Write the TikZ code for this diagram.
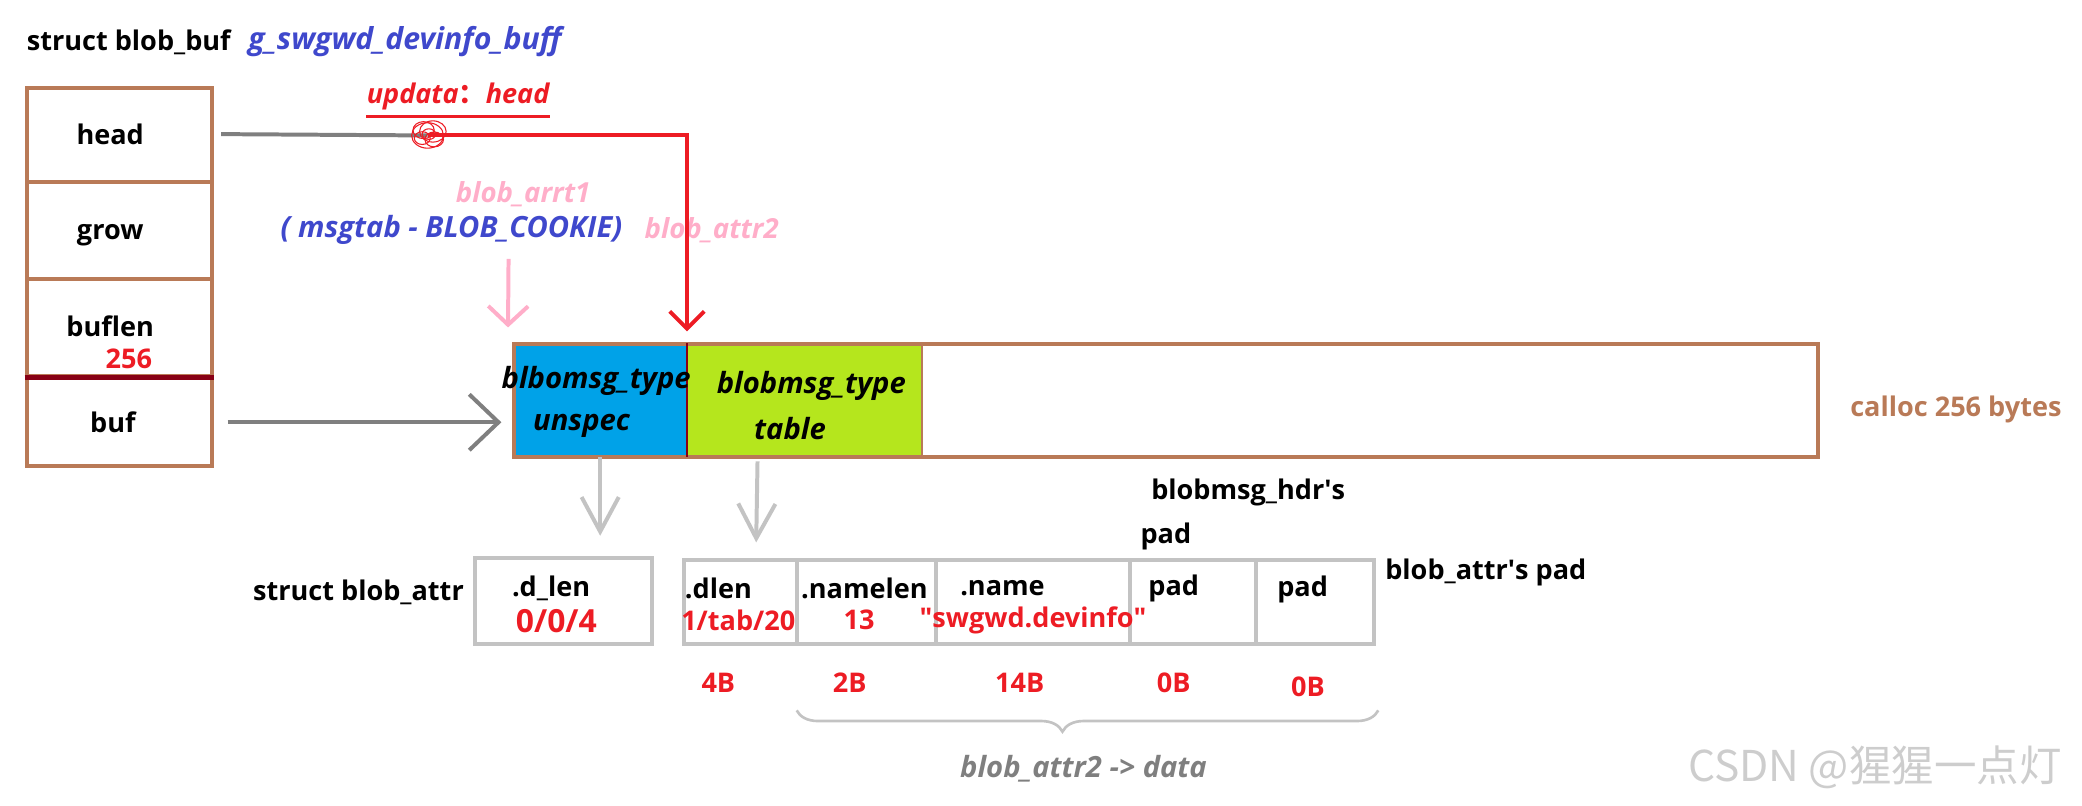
\documentclass[tikz,border=0pt]{standalone}
\usepackage{fontspec}
\setmainfont{Open Sans}
\newfontfamily\cjkfont{Noto Sans CJK SC}
\usetikzlibrary{arrows.meta,positioning,decorations.pathreplacing}
\definecolor{pbrown}{RGB}{185,122,87}
\definecolor{pblue}{RGB}{0,162,232}
\definecolor{plime}{RGB}{181,230,29}
\definecolor{pred}{RGB}{237,28,36}
\definecolor{ppink}{RGB}{255,174,201}
\definecolor{pindigo}{RGB}{63,72,204}
\definecolor{pgray}{RGB}{127,127,127}
\definecolor{plgray}{RGB}{195,195,195}
\definecolor{pmaroon}{RGB}{136,0,21}
\definecolor{pmark}{RGB}{205,205,205}

\begin{document}
\begin{tikzpicture}[x=0.5pt, y=-0.5pt,
  txt/.style={font=\fontsize{10.2}{12}\selectfont\bfseries, inner sep=0pt},
  bitxt/.style={font=\fontsize{11}{13}\selectfont\bfseries\itshape, inner sep=0pt},
  field/.style={draw=pbrown, line width=1.5pt, minimum width=70pt, inner sep=0pt},
  cell/.style={draw=plgray, line width=1.5pt, minimum height=31.5pt, inner sep=0pt},
  garr/.style={-{Straight Barb[length=11pt, width=21pt]}, pgray, line width=1.5pt},
  larr/.style={-{Straight Barb[length=13pt, width=14pt]}, plgray, line width=1.5pt}]
\useasboundingbox (0,0) rectangle (1568,607);
% Titles
\node[txt] (bbuf) at (97,32) {struct blob\_buf};
\node[bitxt, text=pindigo, font=\fontsize{11.4}{13}\selectfont\bfseries\itshape] (gbuf) at (305,31) {g\_swgwd\_devinfo\_buff};
% struct blob_buf fields
\node[field, minimum height=35.5pt] (head) at (90,101.5) {};
\node[field, minimum height=36.5pt] (grow) at (90,173.5) {};
\node[field, minimum height=36.5pt] (buflen) at (90,246.5) {};
\node[field, minimum height=34pt] (buf) at (90,317) {};
\node[txt] (headt) at (83,101) {head};
\node[txt] (growt) at (83,177) {grow};
\node[txt] (buflent) at (83,246) {buflen};
\node[txt, text=pred] (len) at (97,270) {256};
\node[txt] (buft) at (85,318) {buf};
\draw[pmaroon, line width=2pt] (buflen.south west) -- (buflen.south east);
% calloc buffer
\node[fill=pblue, minimum width=65pt, minimum height=42.5pt, inner sep=0pt] (unspec) at (452,301.5) {};
\node[fill=plime, minimum width=88.5pt, minimum height=42.5pt, inner sep=0pt] (table) at (605.5,301.5) {};
\node[draw=pbrown, line width=1.5pt, minimum width=491pt, minimum height=42.5pt, inner sep=0pt] (mem) at (878,301.5) {};
\draw[pmaroon, line width=0.8pt] (unspec.north east) -- (unspec.south east);
\draw[pbrown, line width=1pt] (table.north east) -- (table.south east);
\node[bitxt] (ut1) at (449,287) {blbomsg\_type};
\node[bitxt] (ut2) at (438,321) {unspec};
\node[bitxt] (tt1) at (611,291) {blobmsg\_type};
\node[bitxt] (tt2) at (595,323) {table};
\node[txt, text=pbrown] (calloc) at (1473,308) {calloc 256 bytes};
% labels above the buffer
\node[bitxt, text=pred, font=\fontsize{10.2}{12}\selectfont\bfseries\itshape] (upd) at (345,73) {updata{\cjkfont\bfseries ：}head};
\draw[pred, line width=1pt] ([yshift=-2pt]upd.south west) -- ([yshift=-2pt]upd.south east);
\node[bitxt, text=ppink, font=\fontsize{10.4}{12}\selectfont\bfseries\itshape] (attr1) at (394,146) {blob\_arrt1};
\node[bitxt, text=pindigo] (cookie) at (340,173) {( msgtab - BLOB\_COOKIE)};
\node[bitxt, text=ppink, font=\fontsize{10.4}{12}\selectfont\bfseries\itshape] (attr2) at (536,173) {blob\_attr2};
% head pointer, moved to blob_attr2
\coordinate (scrib) at (322,102);
\draw[pgray, line width=1.5pt] ([xshift=2.5pt]head.east |- headt) -- (scrib);
\draw[-{Straight Barb[length=6.5pt, width=13pt]}, pred, line width=1.5pt]
  (scrib) -| ([yshift=4.5pt]unspec.north east);
\foreach \dx/\dy/\r in {0/0/6, 2/1.5/5, -1.5/2/4, 2.5/-1.5/3.5, 0.5/0.5/2.5, -2/-1/3}
  \draw[pred, line width=0.4pt] ([xshift=\dx pt, yshift=\dy pt]scrib) ellipse ({\r pt} and {0.8*\r pt});
% blob_attr1
\coordinate (a1top) at (383,195);
\draw[-{Straight Barb[length=7pt, width=15pt]}, ppink, line width=1.5pt]
  (a1top) -- ([xshift=-2pt, yshift=6pt]unspec.north west);
% buf pointer
\draw[garr] ([xshift=5pt]buf.east |- buft) -- ([xshift=-4.5pt]unspec.west |- buft);
% struct blob_attr
\node[txt] (battr) at (270,446) {struct blob\_attr};
\node[cell, minimum width=66.5pt, minimum height=32.5pt] (dlen0) at (424.5,452.5) {};
\node[cell, minimum width=42.5pt] (c1) at (557.5,453.5) {};
\node[cell, minimum width=52.5pt] (c2) at (652.5,453.5) {};
\node[cell, minimum width=73pt] (c3) at (778,453.5) {};
\node[cell, minimum width=47.5pt] (c4) at (898.5,453.5) {};
\node[cell, minimum width=44.5pt] (c5) at (990.5,453.5) {};
\node[txt] (d0t) at (415,443) {.d\_len};
\node[txt, text=pred, font=\fontsize{12}{14}\selectfont\bfseries] (d0v) at (419,468) {0/0/4};
\node[txt] (c1t) at (541,443) {.dlen};
\node[txt, text=pred] (c1v) at (556,467) {1/tab/20};
\node[txt] (c2t) at (651,443) {.namelen};
\node[txt, text=pred] (c2v) at (647,467) {13};
\node[txt] (c3t) at (755,443) {.name};
\node[txt, text=pred] (c3v) at (778,467) {\textquotedbl swgwd.devinfo\textquotedbl};
\node[txt] (c4t) at (884,443) {pad};
\node[txt] (c5t) at (981,444) {pad};
\node[txt] (hdrpad) at (940,371) {blobmsg\_hdr\textquotesingle s};
\node[txt] (hdrpad2) at (878,404) {pad};
\node[txt] (attrpad) at (1119,431) {blob\_attr\textquotesingle s pad};
% arrows into blob_attr
\draw[larr] (unspec.south) -- ([yshift=7.5pt]dlen0.north -| unspec.south);
\draw[larr] ([xshift=-17.5pt, yshift=-1.5pt]table.south) -- ([xshift=6pt, yshift=6pt]c1.north);
% sizes
\node[txt, text=pred] (s1) at (541,514) {4B};
\node[txt, text=pred] (s2) at (640,514) {2B};
\node[txt, text=pred] (s3) at (768,514) {14B};
\node[txt, text=pred] (s4) at (884,514) {0B};
\node[txt, text=pred] (s5) at (985,517) {0B};
% data brace
\draw[plgray, line width=1pt, decorate,
  decoration={brace, mirror, amplitude=8pt, aspect=0.457}]
  (600,535) -- (1038,535);
\node[bitxt, text=pgray] (data) at (816,579) {blob\_attr2 -> data};
% watermark
\node[font=\cjkfont\fontsize{16}{18}\selectfont, text=pmark, inner sep=0pt] (mark) at (1412,578) {CSDN @猩猩一点灯};
\end{tikzpicture}
\end{document}
